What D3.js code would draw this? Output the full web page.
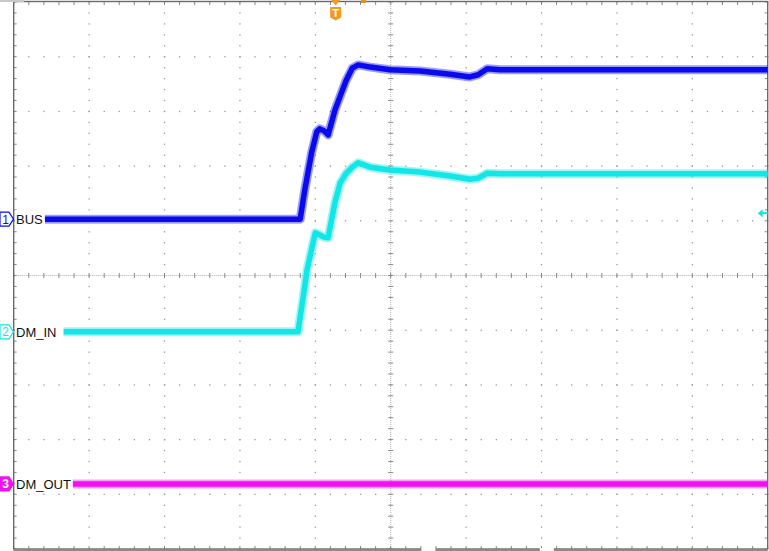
<!DOCTYPE html>
<html>
<head>
<meta charset="utf-8">
<script src="https://cdn.jsdelivr.net/npm/d3@7"></script>
<style>
body { margin: 0; background: #fff; }
svg { display: block; }
</style>
</head>
<body>
<svg width="769" height="551"></svg>
<script>
// all values in screen divisions (10 x 10 grid), y = 0 is the centre line
var busTime = [0.35, 3.80, 3.86, 3.95, 4.02, 4.06, 4.12, 4.17, 4.26, 4.33, 4.41, 4.49, 4.57, 4.73, 4.99, 5.39, 5.79, 6.05, 6.16, 6.28, 6.45, 10.0]
var busLevel = [1.03, 1.03, 1.56, 2.24, 2.63, 2.68, 2.64, 2.57, 3.02, 3.28, 3.57, 3.79, 3.85, 3.81, 3.76, 3.74, 3.68, 3.63, 3.67, 3.78, 3.76, 3.76]

var dmInTime = [0.61, 3.77, 3.84, 3.89, 4.00, 4.06, 4.12, 4.17, 4.26, 4.33, 4.41, 4.49, 4.57, 4.73, 4.99, 5.39, 5.79, 6.05, 6.16, 6.28, 6.45, 10.0]
var dmInLevel = [-1.03, -1.03, -0.39, 0.10, 0.78, 0.74, 0.70, 0.69, 1.33, 1.69, 1.87, 1.98, 2.06, 1.98, 1.93, 1.89, 1.82, 1.76, 1.78, 1.87, 1.86, 1.86]

var dmOutTime = [0.77, 10.0]
var dmOutLevel = [-3.81, -3.81]

var channelNames = ["BUS", "DM_IN", "DM_OUT"]
var channelOffsets = [1.03, -1.03, -3.81]
var triggerTime = 4.27
var triggerLevel = 1.14

var svg = d3.select('svg')

var x = d3.scaleLinear().domain([0, 10]).range([13.7, 767.7])
var y = d3.scaleLinear().domain([-5, 5]).range([549, 2])

var colors = ["#0a0aee", "#12e6e6", "#f010f0"]
var minor = d3.range(0, 10.001, 0.2)
var minorY = d3.range(-5, 5.001, 0.2)

//Dotted graticule
var grid = svg.append('g')
d3.range(1, 10).filter(function(i) { return i != 5 }).forEach(function(i) {
	grid.selectAll(null).data(minorY).enter().append('rect')
		.attr('x', x(i) - 0.6).attr('y', function(d) { return y(d) - 0.6 })
		.attr('width', 1.3).attr('height', 1.3).attr('fill', '#9a9a9a')
})
d3.range(-4, 5).filter(function(j) { return j != 0 }).forEach(function(j) {
	grid.selectAll(null).data(minor).enter().append('rect')
		.attr('x', function(d) { return x(d) - 0.6 }).attr('y', y(j) - 0.6)
		.attr('width', 1.3).attr('height', 1.3).attr('fill', '#9a9a9a')
})

//Centre lines with small ticks
grid.append('line').attr('x1', x(0)).attr('x2', x(10)).attr('y1', y(0)).attr('y2', y(0))
	.attr('stroke', '#b0b0b0').attr('stroke-dasharray', '1,1')
grid.append('line').attr('x1', x(5)).attr('x2', x(5)).attr('y1', y(-5)).attr('y2', y(5))
	.attr('stroke', '#b0b0b0').attr('stroke-dasharray', '1,1')
grid.selectAll(null).data(minor).enter().append('line')
	.attr('x1', function(d) { return x(d) }).attr('x2', function(d) { return x(d) })
	.attr('y1', y(0) - 2.5).attr('y2', y(0) + 2.5).attr('stroke', '#888')
grid.selectAll(null).data(minorY).enter().append('line')
	.attr('y1', function(d) { return y(d) }).attr('y2', function(d) { return y(d) })
	.attr('x1', x(5) - 2.5).attr('x2', x(5) + 2.5).attr('stroke', '#888')

//Border ticks
grid.selectAll(null).data(minorY).enter().append('line')
	.attr('y1', function(d) { return y(d) }).attr('y2', function(d) { return y(d) })
	.attr('x1', x(0)).attr('x2', x(0) + 3).attr('stroke', '#888')
grid.selectAll(null).data(minorY).enter().append('line')
	.attr('y1', function(d) { return y(d) }).attr('y2', function(d) { return y(d) })
	.attr('x1', x(10) - 3).attr('x2', x(10)).attr('stroke', '#888')
grid.selectAll(null).data(minor).enter().append('line')
	.attr('x1', function(d) { return x(d) }).attr('x2', function(d) { return x(d) })
	.attr('y1', y(5)).attr('y2', y(5) + 3).attr('stroke', '#888')
grid.selectAll(null).data(minor).enter().append('line')
	.attr('x1', function(d) { return x(d) }).attr('x2', function(d) { return x(d) })
	.attr('y1', y(-5) - 3).attr('y2', y(-5)).attr('stroke', '#888')

//Frame
svg.append('rect').attr('x', x(0)).attr('y', y(5) - 0.5).attr('width', x(10) - x(0)).attr('height', y(-5) - y(5) + 0.5)
	.attr('fill', 'none').attr('stroke', '#6a6a6a').attr('stroke-width', 1.4)
svg.append('rect').attr('x', x(0)).attr('y', y(-5)).attr('width', x(10) - x(0)).attr('height', 2)
	.attr('fill', '#8a8a8a')
svg.append('rect').attr('x', 0).attr('y', 0).attr('width', 24).attr('height', 2).attr('fill', '#c8c8c8')
//cursor gaps on the bottom edge
;[5.5, 7.07].forEach(function(t) {
	svg.append('rect').attr('x', x(t) - 7).attr('y', y(-5) - 1).attr('width', 14).attr('height', 4).attr('fill', '#fff')
})

//Traces
var line = d3.line()
	.x(function(d) { return x(d[0]) })
	.y(function(d) { return y(d[1]) })
	.curve(d3.curveLinear)

var traces = [
	{time: dmOutTime, level: dmOutLevel, color: colors[2]},
	{time: dmInTime, level: dmInLevel, color: colors[1]},
	{time: busTime, level: busLevel, color: colors[0]}
]
traces.forEach(function(tr) {
	var pts = d3.zip(tr.time, tr.level)
	svg.append('path').attr('d', line(pts))
		.attr('fill', 'none').attr('stroke', tr.color).attr('stroke-opacity', 0.4)
		.attr('stroke-width', 9).attr('stroke-linejoin', 'round')
	svg.append('path').attr('d', line(pts))
		.attr('fill', 'none').attr('stroke', tr.color)
		.attr('stroke-width', 5.5).attr('stroke-linejoin', 'round')
})

//Channel badges and labels
channelNames.forEach(function(name, i) {
	var cy = y(channelOffsets[i])
	var g = svg.append('g').attr('transform', 'translate(0,' + cy + ')')
	g.append('path')
		.attr('d', 'M0,-7 L9,-7 L13.5,0 L9,7 L0,7 Z')
		.attr('fill', i == 2 ? colors[i] : '#fff')
		.attr('stroke', colors[i]).attr('stroke-width', 1.2)
	g.append('text').text(i + 1)
		.attr('x', 5.5).attr('y', 4.5).attr('text-anchor', 'middle')
		.attr('font-family', 'Liberation Sans, Arial').attr('font-size', 12)
		.attr('font-weight', i == 2 ? 'bold' : 'normal')
		.attr('fill', i == 2 ? '#fff' : colors[i])
	svg.append('rect').attr('x', 15).attr('y', cy - 9).attr('width', name.length * 9.3 + 2).attr('height', 15).attr('fill', '#fff')
	svg.append('text').text(name)
		.attr('x', 16).attr('y', cy + 5)
		.attr('font-family', 'Liberation Sans, Arial').attr('font-size', 13)
		.attr('fill', '#111')
})

//Trigger position marker
var tx = x(triggerTime)
var trig = svg.append('g').attr('transform', 'translate(' + tx + ',0)')
trig.append('path').attr('d', 'M-4.5,0 L4.5,0 L0,5.5 Z').attr('fill', '#f39a1e')
trig.append('path').attr('d', 'M-5.5,7 L5.5,7 L5.5,17.5 L0,20.5 L-5.5,17.5 Z').attr('fill', '#f39a1e')
trig.append('text').text('T').attr('x', 0).attr('y', 17).attr('text-anchor', 'middle')
	.attr('font-family', 'Liberation Sans, Arial').attr('font-size', 11).attr('font-weight', 'bold').attr('fill', '#fff')
svg.append('rect').attr('x', 361).attr('y', 0).attr('width', 5).attr('height', 3).attr('fill', '#e8901a')

//Trigger level marker on the right edge
var ty = y(triggerLevel)
svg.append('path').attr('d', 'M' + (x(10) - 10) + ',' + ty + ' l5,-4 l0,8 Z').attr('fill', colors[1])
svg.append('line').attr('x1', x(10) - 6).attr('x2', x(10)).attr('y1', ty).attr('y2', ty)
	.attr('stroke', colors[1]).attr('stroke-width', 2)
</script>
</body>
</html>
